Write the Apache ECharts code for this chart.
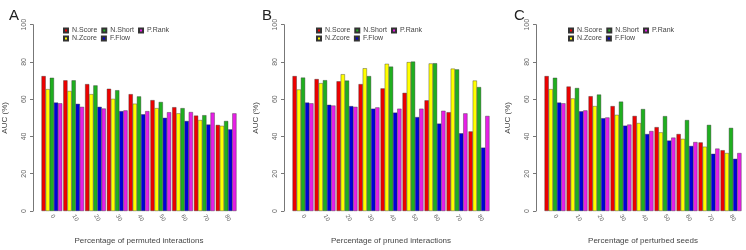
<!DOCTYPE html>
<html>
<head>
<meta charset="utf-8">
<script src="https://cdn.jsdelivr.net/npm/echarts@6/dist/echarts.min.js"></script>
<style>
  html, body { margin: 0; padding: 0; background: #fff; }
  #chart { width: 746px; height: 250px; }
</style>
</head>
<body>
<div id="chart"></div>
<script>
const categories = ['0', '10', '20', '30', '40', '50', '60', '70', '80']
const methods = ['N.Score', 'N.Zcore', 'N.Short', 'F.Flow', 'P.Rank']
const yTicks = [0, 20, 40, 60, 80, 100]

// A: permuted interactions
const aScore = [72.4, 70.1, 68.1, 65.6, 62.7, 59.5, 55.7, 51.2, 46.2]
const aZcore = [65.4, 64.4, 62.7, 60.2, 57.6, 55.2, 52.4, 48.8, 45.7]
const aShort = [71.5, 70.1, 67.4, 64.8, 61.5, 58.5, 55.2, 51.4, 48.3]
const aFlow = [58.2, 57.5, 55.9, 53.6, 51.9, 50.0, 48.3, 46.4, 43.8]
const aRank = [57.8, 55.9, 55.0, 54.0, 53.6, 53.0, 53.1, 52.8, 52.4]

// B: pruned interactions
const bScore = [72.4, 70.8, 69.6, 68.1, 65.8, 63.4, 59.4, 53.0, 42.7]
const bZcore = [65.2, 68.6, 73.4, 76.6, 79.0, 79.9, 79.2, 76.4, 70.0]
const bShort = [71.6, 70.2, 70.0, 72.4, 77.5, 80.2, 79.3, 76.0, 66.5]
const bFlow = [58.2, 57.0, 56.3, 54.9, 52.8, 50.4, 46.9, 41.7, 34.0]
const bRank = [57.8, 56.6, 55.9, 55.6, 54.9, 54.9, 53.8, 52.4, 51.0]

// C: perturbed seeds
const cScore = [72.4, 66.8, 61.6, 56.3, 51.0, 45.0, 41.3, 36.8, 32.6]
const cZcore = [65.4, 60.4, 56.3, 51.6, 47.2, 42.2, 38.7, 34.5, 31.1]
const cShort = [71.5, 66.0, 62.5, 58.7, 54.7, 50.9, 48.8, 46.2, 44.6]
const cFlow = [58.2, 53.5, 49.8, 45.8, 41.3, 37.8, 34.9, 30.7, 28.0]
const cRank = [57.8, 54.0, 50.2, 46.4, 42.9, 39.4, 37.0, 33.5, 31.1]

const panels = [
  { letter: 'A', xName: 'Percentage of permuted interactions', values: [aScore, aZcore, aShort, aFlow, aRank], left: 39 },
  { letter: 'B', xName: 'Percentage of pruned interactions', values: [bScore, bZcore, bShort, bFlow, bRank], left: 292 },
  { letter: 'C', xName: 'Percentage of perturbed seeds', values: [cScore, cZcore, cShort, cFlow, cRank], left: 544 },
]

const colors = ['#ee0000', '#ffff00', '#1faf1f', '#0000d8', '#e61fe6']
const font = 'Liberation Sans, Arial, sans-serif'
const textColor = '#444'

const grid = []
const xAxis = []
const yAxis = []
const series = []
const legend = []
const title = []

panels.forEach((p, i) => {
  grid.push({ left: p.left, width: 198, top: 24.7, height: 192 })
  title.push({
    text: p.letter,
    left: p.left - 35,
    top: 3,
    textStyle: { fontFamily: font, fontSize: 15, fontWeight: 'normal', color: '#222' },
  })
  xAxis.push({
    type: 'category',
    gridIndex: i,
    data: categories,
    name: p.xName,
    nameLocation: 'middle',
    nameGap: 26,
    nameTextStyle: { fontFamily: font, fontSize: 8, color: textColor },
    axisLine: { show: false },
    axisTick: { show: false },
    axisLabel: { rotate: -60, fontSize: 6, fontFamily: font, color: '#666', margin: 4 },
  })
  yAxis.push({
    type: 'value',
    gridIndex: i,
    min: 0,
    max: 100,
    interval: 20,
    offset: 8,
    name: 'AUC (%)',
    nameLocation: 'middle',
    nameRotate: 90,
    nameGap: 24,
    nameTextStyle: { fontFamily: font, fontSize: 8, color: textColor },
    axisLine: { show: true, lineStyle: { color: '#777', width: 1 } },
    axisTick: { show: true, length: 3, lineStyle: { color: '#777' } },
    axisLabel: {
      rotate: 90, fontSize: 7, fontFamily: font, color: '#666', margin: 5,
      customValues: yTicks,
    },
    splitLine: { show: false },
  })
  methods.forEach((m, k) => {
    series.push({
      name: m,
      type: 'bar',
      xAxisIndex: i,
      yAxisIndex: i,
      data: p.values[k],
      barWidth: '19%',
      barGap: '0%',
      itemStyle: { color: colors[k], borderColor: '#333', borderWidth: 0.4 },
      emphasis: { disabled: true },
      animation: false,
    })
  })
  const legendBase = {
    left: p.left + 24,
    orient: 'horizontal',
    itemWidth: 4,
    itemHeight: 4,
    itemGap: 4,
    padding: 0,
    icon: 'rect',
    selectedMode: false,
    textStyle: { fontFamily: font, fontSize: 7, color: textColor, width: 26, padding: [0, 0, 0, -1] },
  }
  legend.push(Object.assign({}, legendBase, { top: 27, data: ['N.Score', 'N.Short', 'P.Rank'] }))
  legend.push(Object.assign({}, legendBase, { top: 35, data: ['N.Zcore', 'F.Flow'] }))
})

const chart = echarts.init(document.getElementById('chart'), null, { renderer: 'canvas' })
chart.setOption({
  backgroundColor: '#fff',
  animation: false,
  color: colors,
  title,
  legend,
  grid,
  xAxis,
  yAxis,
  series,
})
</script>
</body>
</html>
